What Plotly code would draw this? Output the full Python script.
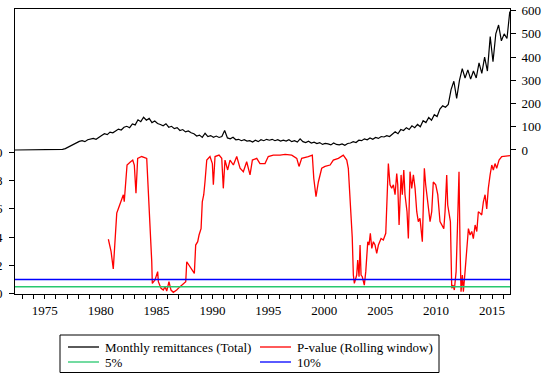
import plotly.graph_objects as go

# ---------------- data ----------------
# Monthly remittances (Total), sampled quarterly, starting 1972.34
remit_start = 1972.34
remit_step = 0.25
remit_values = [
    0, 0, 1, 0,
    0, 1, 0, 1,
    0, 1, 0, 1,
    1, 0, 1, 2,
    2, 3, 6, 12,
    20, 26, 31, 37,
    40, 36, 44, 48,
    50, 46, 56, 62,
    70, 66, 77, 74,
    82, 90, 86, 98,
    102, 96, 112, 108,
    130, 122, 141, 128,
    136, 118, 125, 114,
    110, 104, 113, 98,
    102, 92, 96, 84,
    88, 78, 82, 74,
    70, 60, 64, 54,
    72, 58, 62, 55,
    60, 54, 58, 84,
    52, 48, 55, 44,
    46, 40, 44, 38,
    40, 34, 42, 36,
    44, 40, 46, 42,
    46, 40, 44, 38,
    42, 38, 44, 36,
    40, 34, 48, 36,
    32, 38, 30, 34,
    28, 32, 24, 28,
    26, 22, 30, 24,
    22, 26, 20, 28,
    30, 36, 32, 42,
    40, 48, 44, 52,
    46, 54, 50, 58,
    56, 62, 58, 70,
    78, 70, 88, 84,
    96, 88, 104, 96,
    110, 100, 126, 118,
    140, 128, 152, 144,
    176, 190, 184, 196,
    260, 296, 222, 300,
    350, 310, 345, 305,
    340, 310, 375, 330,
    400, 340, 488, 380,
    500, 538, 470, 500,
    480, 596,
]
remit_years = [remit_start + i * remit_step for i in range(len(remit_values))]

# P-value (Rolling window)
pval_years = [
    1980.69, 1980.93, 1981.13, 1981.35, 1981.44, 1981.58, 1981.88, 1982.03, 1982.11, 1982.24,
    1982.36, 1982.63, 1982.87, 1983.01, 1983.16, 1983.31, 1983.67, 1984.12, 1984.26, 1984.42,
    1984.57, 1984.62, 1984.86, 1985.10, 1985.16, 1985.40, 1985.60, 1985.76, 1985.91, 1986.11,
    1986.29, 1986.50, 1986.80, 1987.10, 1987.39, 1987.61, 1987.70, 1987.99, 1988.20, 1988.38,
    1988.50, 1988.68, 1988.80, 1988.98, 1989.09, 1989.22, 1989.33, 1989.49, 1989.78, 1989.99,
    1990.08, 1990.23, 1990.59, 1990.83, 1990.97, 1991.12, 1991.36, 1991.57, 1991.87, 1992.17,
    1992.47, 1992.76, 1993.06, 1993.36, 1993.57, 1993.96, 1994.25, 1994.70, 1994.99, 1995.44,
    1996.04, 1996.50, 1997.09, 1997.54, 1997.74, 1997.98, 1998.57, 1998.93, 1999.06, 1999.26,
    1999.47, 1999.77, 2000.07, 2000.52, 2000.81, 2001.26, 2001.70, 2002.01, 2002.15, 2002.30,
    2002.38, 2002.50, 2002.60, 2002.69, 2002.90, 2002.99, 2003.11, 2003.20, 2003.29, 2003.40,
    2003.58, 2003.71, 2003.89, 2004.00, 2004.12, 2004.25, 2004.39, 2004.54, 2004.69, 2004.84,
    2005.08, 2005.28, 2005.50, 2005.59, 2005.73, 2005.88, 2006.03, 2006.18, 2006.33, 2006.48,
    2006.57, 2006.69, 2006.87, 2006.98, 2007.11, 2007.22, 2007.40, 2007.52, 2007.67, 2007.82,
    2007.97, 2008.12, 2008.27, 2008.41, 2008.56, 2008.77, 2008.95, 2009.07, 2009.25, 2009.46,
    2009.61, 2009.75, 2009.97, 2010.15, 2010.35, 2010.51, 2010.69, 2010.80, 2010.95, 2011.04,
    2011.16, 2011.28, 2011.40, 2011.52, 2011.63, 2011.79, 2011.90, 2012.05, 2012.14, 2012.23,
    2012.35, 2012.44, 2012.59, 2012.74, 2012.89, 2013.04, 2013.19, 2013.33, 2013.49, 2013.64,
    2013.78, 2013.93, 2014.08, 2014.23, 2014.38, 2014.53, 2014.67, 2014.83, 2014.98, 2015.12,
    2015.27, 2015.42, 2015.63, 2015.87, 2016.32, 2016.61,
]
pval_values = [
    0.385, 0.30, 0.175, 0.46, 0.57, 0.60, 0.675, 0.70, 0.65, 0.79,
    0.91, 0.93, 0.945, 0.91, 0.71, 0.957, 0.97, 0.957, 0.745, 0.486,
    0.226, 0.073, 0.097, 0.156, 0.085, 0.038, 0.026, 0.05, 0.019, 0.085,
    0.026, 0.01, 0.026, 0.05, 0.073, 0.085, 0.226, 0.19, 0.168, 0.144,
    0.344, 0.368, 0.415, 0.46, 0.65, 0.70, 0.79, 0.945, 0.97, 0.92,
    0.77, 0.97, 0.98, 0.957, 0.745, 0.945, 0.875, 0.945, 0.91, 0.97,
    0.887, 0.863, 0.933, 0.84, 0.945, 0.957, 0.92, 0.92, 0.97, 0.98,
    0.98, 0.985, 0.98, 0.957, 0.90, 0.957, 0.97, 0.98, 0.816, 0.686,
    0.79, 0.887, 0.90, 0.91, 0.945, 0.957, 0.98, 0.945, 0.887, 0.675,
    0.62, 0.40, 0.132, 0.073, 0.132, 0.238, 0.12, 0.344, 0.132, 0.12,
    0.061, 0.156, 0.368, 0.344, 0.427, 0.32, 0.368, 0.344, 0.286, 0.344,
    0.39, 0.38, 0.427, 0.58, 0.92, 0.77, 0.745, 0.77, 0.70, 0.85,
    0.77, 0.486, 0.84, 0.70, 0.875, 0.70, 0.58, 0.39, 0.863, 0.745,
    0.84, 0.745, 0.58, 0.51, 0.533, 0.368, 0.887, 0.77, 0.65, 0.51,
    0.58, 0.79, 0.77, 0.70, 0.51, 0.486, 0.46, 0.58, 0.84, 0.627,
    0.557, 0.51, 0.038, 0.061, 0.026, 0.156, 0.44, 0.863, 0.344, 0.014,
    0.132, 0.014, 0.156, 0.32, 0.46, 0.415, 0.44, 0.39, 0.486, 0.44,
    0.58, 0.57, 0.557, 0.65, 0.70, 0.60, 0.745, 0.84, 0.91, 0.875,
    0.92, 0.887, 0.945, 0.97, 0.976, 0.976,
]

level_5 = 0.05
level_10 = 0.10
x_span = [1972.34, 2016.61]

year_ticks = list(range(1973, 2017))
year_labels = [str(y) if y % 5 == 0 else "" for y in year_ticks]
p_ticks = [0.0, 0.2, 0.4, 0.6, 0.8, 1.0]
p_labels = [".0", ".2", ".4", ".6", ".8", "1.0"]
r_ticks = [0, 100, 200, 300, 400, 500, 600]

series_names = ["Monthly remittances (Total)", "P-value (Rolling window)", "5%", "10%"]
series_colors = ["#000000", "#ff0000", "rgb(40,200,110)", "#0000ff"]

FONT = "Liberation Serif, Times New Roman, serif"

W, H = 549, 374
ML, MR, MT, MB = 15, 39, 9, 80
PW, PH = W - ML - MR, H - MT - MB


def px_x(px):
    return (px - ML) / PW


def px_y(py):
    return (H - MB - py) / PH


fig = go.Figure()
fig.add_trace(go.Scatter(x=remit_years, y=remit_values, mode="lines",
                         name=series_names[0],
                         line=dict(color=series_colors[0], width=1.2), yaxis="y2"))
fig.add_trace(go.Scatter(x=pval_years, y=pval_values, mode="lines",
                         name=series_names[1],
                         line=dict(color=series_colors[1], width=1.3)))
fig.add_trace(go.Scatter(x=x_span, y=[level_5, level_5], mode="lines", name=series_names[2],
                         line=dict(color=series_colors[2], width=1.5)))
fig.add_trace(go.Scatter(x=x_span, y=[level_10, level_10], mode="lines", name=series_names[3],
                         line=dict(color=series_colors[3], width=1.5)))

# manual legend (box + sample lines + labels)
shapes = [dict(type="rect", xref="paper", yref="paper",
               x0=px_x(60), x1=px_x(439), y0=px_y(372.5), y1=px_y(335),
               line=dict(color="black", width=1), fillcolor="white", layer="above")]
annotations = []
legend_pos = [(68, 347), (260, 347), (68, 362), (260, 362)]
for (lx, ly), name, col in zip(legend_pos, series_names, series_colors):
    shapes.append(dict(type="line", xref="paper", yref="paper",
                       x0=px_x(lx), x1=px_x(lx + 31), y0=px_y(ly), y1=px_y(ly),
                       line=dict(color=col, width=1.3), layer="above"))
    annotations.append(dict(text=name, xref="paper", yref="paper",
                            x=px_x(lx + 35), y=px_y(ly), xanchor="left", yanchor="middle",
                            showarrow=False, font=dict(family=FONT, size=13, color="black")))

fig.update_layout(
    width=W, height=H,
    margin=dict(l=ML, r=MR, t=MT, b=MB, autoexpand=False),
    paper_bgcolor="white", plot_bgcolor="white",
    font=dict(family=FONT, size=13, color="black"),
    showlegend=False,
    xaxis=dict(range=x_span, tickvals=year_ticks, ticktext=year_labels,
               ticks="outside", ticklen=4, tickcolor="black",
               showline=True, linecolor="black", linewidth=1, mirror=True,
               showgrid=False, zeroline=False, tickangle=0, automargin=False),
    yaxis=dict(range=[-0.002, 2.013], tickvals=p_ticks, ticktext=p_labels,
               ticks="outside", ticklen=5, tickcolor="black",
               showline=True, linecolor="black", linewidth=1,
               showgrid=False, zeroline=False, ticklabelstandoff=4, automargin=False),
    yaxis2=dict(range=[-620, 607], tickvals=r_ticks, overlaying="y", side="right",
                ticks="outside", ticklen=5, tickcolor="black",
                showline=True, linecolor="black", linewidth=1,
                showgrid=False, zeroline=False, ticklabelstandoff=3, automargin=False),
    shapes=shapes,
    annotations=annotations,
)

fig.write_html("out.html")
